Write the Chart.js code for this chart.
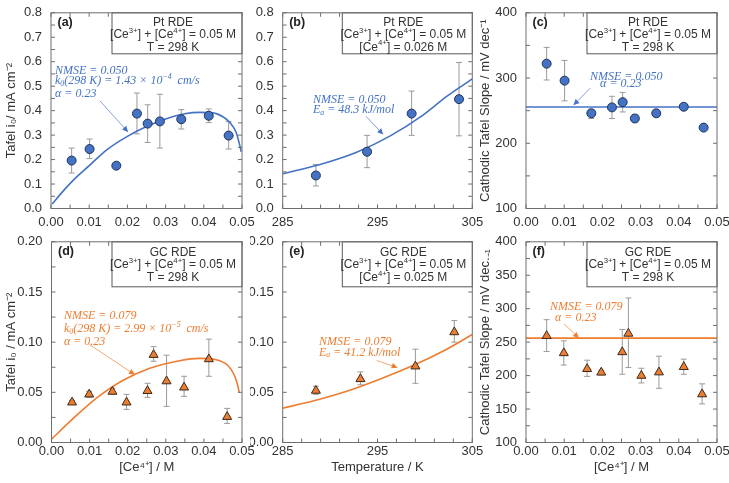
<!DOCTYPE html>
<html>
<head>
<meta charset="utf-8">
<script src="https://cdn.jsdelivr.net/npm/chart.js@4.4.1/dist/chart.umd.min.js"></script>
<style>
  html, body { margin: 0; padding: 0; background: #fff; }
  body { position: relative; width: 729px; height: 483px; overflow: hidden; }
  canvas { position: absolute; }
</style>
</head>
<body>
<script>
// ---------------- data ----------------

// Pt RDE, [Ce4+] series (panels a and c)
const ptCe4 = [0.0054, 0.0101, 0.0171, 0.0225, 0.0253, 0.0285, 0.0341, 0.0413, 0.0465];
const ptI0 = [0.196, 0.243, 0.175, 0.388, 0.347, 0.356, 0.365, 0.379, 0.298];
const ptI0Low = [0.145, 0.204, 0.168, 0.305, 0.270, 0.247, 0.325, 0.351, 0.243];
const ptI0High = [0.247, 0.284, 0.182, 0.472, 0.424, 0.467, 0.404, 0.407, 0.355];
const ptFitCe4 = [0.0003, 0.003, 0.0058, 0.010, 0.0146, 0.020, 0.025, 0.030, 0.035, 0.039, 0.042, 0.045, 0.047, 0.0485, 0.0493, 0.0498];
const ptFitI0 = [0.018, 0.068, 0.115, 0.175, 0.240, 0.295, 0.335, 0.366, 0.387, 0.393, 0.392, 0.375, 0.348, 0.310, 0.265, 0.232];
const ptSlope = [322, 296, 246, 255, 263, 238, 246, 256, 224];
const ptSlopeLow = [297, 265, 238, 238, 248, 233, 243, 253, 221];
const ptSlopeHigh = [347, 327, 252, 272, 278, 244, 249, 259, 227];
const ptSlopeFit = 255.5;

// Pt RDE, temperature series (panel b)
const ptTemp = [288.5, 293.9, 298.6, 303.6];
const ptI0T = [0.135, 0.232, 0.388, 0.447];
const ptI0TLow = [0.092, 0.167, 0.299, 0.297];
const ptI0THigh = [0.180, 0.299, 0.480, 0.597];
const ptFitTemp = [285, 289.3, 292.8, 296.3, 299.8, 302.3, 305];
const ptFitI0T = [0.142, 0.184, 0.230, 0.296, 0.382, 0.458, 0.530];

// GC RDE, [Ce4+] series (panels d and f)
const gcCe4 = [0.0054, 0.0099, 0.0160, 0.0197, 0.0252, 0.0268, 0.0302, 0.0348, 0.0413, 0.0461];
const gcI0 = [0.0400, 0.0480, 0.0507, 0.0400, 0.0514, 0.0874, 0.0611, 0.0549, 0.0831, 0.0256];
const gcI0Low = [0.0380, 0.0450, 0.0480, 0.0330, 0.0450, 0.0810, 0.0360, 0.0460, 0.0660, 0.0190];
const gcI0High = [0.0420, 0.0510, 0.0540, 0.0480, 0.0590, 0.0955, 0.0870, 0.0660, 0.1030, 0.0340];
const gcFitCe4 = [0.0001, 0.0057, 0.0118, 0.0188, 0.0258, 0.0336, 0.0389, 0.0432, 0.0463, 0.0480, 0.0488, 0.0493];
const gcFitI0 = [0.0036, 0.0240, 0.0442, 0.0620, 0.0740, 0.0815, 0.0838, 0.0825, 0.0767, 0.0670, 0.0580, 0.0495];
const gcSlope = [259.4, 233.7, 210, 204.7, 235.2, 262.8, 199.9, 205, 213, 172.2];
const gcSlopeLow = [236, 215.8, 198.8, 201, 202, 212, 189, 181, 202, 157.7];
const gcSlopeHigh = [283.6, 252, 223, 208, 269, 316, 211, 229, 224.6, 187.7];
const gcSlopeFit = 256;

// GC RDE, temperature series (panel e)
const gcTemp = [288.5, 293.2, 299.0, 303.1];
const gcI0T = [0.0517, 0.0633, 0.0759, 0.1100];
const gcI0TLow = [0.0480, 0.0575, 0.0590, 0.1000];
const gcI0THigh = [0.0560, 0.0704, 0.0930, 0.1215];
const gcFitTemp = [285, 288.2, 291.75, 295.3, 298.8, 302.3, 305];
const gcFitI0T = [0.0342, 0.0413, 0.0510, 0.0633, 0.0769, 0.0930, 0.1076];

// ---------------- look ----------------
const BLUE = 'rgb(68,114,196)';
const ORANGE = 'rgb(237,125,49)';
const SANS = "'Liberation Sans', Arial, sans-serif";
const SERIF = "'Liberation Serif', 'Times New Roman', serif";
const INK = '#333';

Chart.defaults.font.family = SANS;
Chart.defaults.font.size = 13;
Chart.defaults.color = INK;

// canvas rect [left, top, width, height] and plot area [left, top, right, bottom] per panel
const layout = {
  a: { canvas: [0, -4, 262, 244], area: [51, 6, 242, 208.5] },
  b: { canvas: [250, -4, 240, 244], area: [282.7, 6, 472.3, 208.5] },
  c: { canvas: [476, -4, 262, 244], area: [526, 6, 717, 208.5] },
  d: { canvas: [0, 225, 262, 258], area: [51.5, 236.7, 242, 442.5] },
  e: { canvas: [250, 225, 240, 258], area: [282.7, 236.7, 472.3, 442.5] },
  f: { canvas: [476, 225, 262, 258], area: [526, 236.7, 717, 442.5] }
};

// draw a line of text with superscript (1) / subscript (-1) pieces
function drawRich(ctx, parts, x, y, size, family, style, align) {
  const segs = parts.map(p => typeof p === 'string' ? { t: p, s: 0 } : { t: p[0], s: p[1] });
  const fontFor = s => `${style} ${s ? size * 0.65 : size}px ${family}`;
  let w = 0;
  segs.forEach(g => { ctx.font = fontFor(g.s); g.w = ctx.measureText(g.t).width; w += g.w; });
  let cx = align === 'center' ? x - w / 2 : x;
  ctx.textAlign = 'left';
  ctx.textBaseline = 'middle';
  segs.forEach(g => {
    ctx.font = fontFor(g.s);
    const dy = g.s === 1 ? -size * 0.33 : g.s === -1 ? size * 0.25 : 0;
    ctx.fillText(g.t, cx, y + dy);
    cx += g.w;
  });
}

function drawArrow(ctx, x1, y1, x2, y2, color) {
  const a = Math.atan2(y2 - y1, x2 - x1);
  const c = Math.cos(a), s = Math.sin(a);
  ctx.save();
  ctx.globalAlpha = 0.75;
  ctx.strokeStyle = color;
  ctx.lineWidth = 0.9;
  ctx.beginPath();
  ctx.moveTo(x1, y1);
  ctx.lineTo(x2 - 4 * c, y2 - 4 * s);
  ctx.stroke();
  ctx.globalAlpha = 1;
  ctx.fillStyle = color;
  ctx.beginPath();
  ctx.moveTo(x2, y2);
  ctx.lineTo(x2 - 6 * c + 2.8 * s, y2 - 6 * s - 2.8 * c);
  ctx.lineTo(x2 - 6 * c - 2.8 * s, y2 - 6 * s + 2.8 * c);
  ctx.closePath();
  ctx.fill();
  ctx.restore();
}

const specs = {};

// error bars under the marks, frame / inner ticks / notes on top
const panelPlugin = {
  id: 'panelDecor',
  beforeDatasetsDraw(chart) {
    const sp = specs[chart.canvas.id];
    const { ctx, scales: { x, y } } = chart;
    ctx.save();
    ctx.strokeStyle = '#9a9a9a';
    ctx.lineWidth = 1;
    sp.err.x.forEach((v, i) => {
      const px = x.getPixelForValue(v);
      const lo = y.getPixelForValue(sp.err.lo[i]);
      const hi = y.getPixelForValue(sp.err.hi[i]);
      ctx.beginPath();
      ctx.moveTo(px, lo); ctx.lineTo(px, hi);
      ctx.moveTo(px - 3, lo); ctx.lineTo(px + 3, lo);
      ctx.moveTo(px - 3, hi); ctx.lineTo(px + 3, hi);
      ctx.stroke();
    });
    ctx.restore();
  },
  afterDraw(chart) {
    const sp = specs[chart.canvas.id];
    const { ctx, chartArea: ca, scales: { x, y } } = chart;
    ctx.save();

    // inward ticks on all four sides
    ctx.strokeStyle = '#6e6e6e';
    ctx.lineWidth = 1;
    ctx.beginPath();
    x.ticks.forEach(t => {
      const px = x.getPixelForValue(t.value);
      ctx.moveTo(px, ca.bottom); ctx.lineTo(px, ca.bottom - 4);
      ctx.moveTo(px, ca.top); ctx.lineTo(px, ca.top + 4);
    });
    y.ticks.forEach(t => {
      const py = y.getPixelForValue(t.value);
      ctx.moveTo(ca.left, py); ctx.lineTo(ca.left + 4, py);
      ctx.moveTo(ca.right, py); ctx.lineTo(ca.right - 4, py);
    });
    ctx.stroke();

    // info box, top right
    const bw = sp.box.w, bh = sp.box.h;
    const bx = ca.right - bw;
    ctx.fillStyle = '#fff';
    ctx.fillRect(bx, ca.top, bw, bh);
    ctx.strokeStyle = '#595959';
    ctx.strokeRect(bx, ca.top, bw, bh);
    ctx.fillStyle = INK;
    sp.box.lines.forEach((ln, i) => {
      drawRich(ctx, ln, bx + bw / 2 - 4, ca.top + sp.box.rows[i], 12, SANS, 'normal', 'center');
    });

    // frame
    ctx.strokeStyle = '#6e6e6e';
    ctx.strokeRect(ca.left, ca.top, ca.right - ca.left, ca.bottom - ca.top);

    // panel tag
    ctx.fillStyle = '#222';
    ctx.font = `bold 12.5px ${SANS}`;
    ctx.textAlign = 'left';
    ctx.textBaseline = 'middle';
    ctx.fillText(sp.tag, ca.left + 6.5, ca.top + sp.tagDy);

    // fit notes and arrow
    ctx.fillStyle = sp.color;
    sp.notes.forEach(n => {
      drawRich(ctx, n.parts, x.getPixelForValue(n.at[0]), y.getPixelForValue(n.at[1]), 12, SERIF, 'italic', 'left');
    });
    drawArrow(ctx,
      x.getPixelForValue(sp.arrow[0][0]), y.getPixelForValue(sp.arrow[0][1]),
      x.getPixelForValue(sp.arrow[1][0]), y.getPixelForValue(sp.arrow[1][1]), sp.color);

    ctx.restore();
  }
};

function tickLabel(major, base, digits) {
  return function (value) {
    const k = (value - base) / major;
    return Math.abs(k - Math.round(k)) < 1e-6 ? value.toFixed(digits) : '';
  };
}

function points(xs, ys) {
  return xs.map((v, i) => ({ x: v, y: ys[i] }));
}

function makePanel(key, sp) {
  const L = layout[key];
  const [cl, ct, cw, ch] = L.canvas;
  const [al, at, ar, ab] = L.area;
  const cv = document.createElement('canvas');
  cv.id = 'panel-' + key;
  cv.width = cw; cv.height = ch;
  cv.style.left = cl + 'px'; cv.style.top = ct + 'px';
  cv.style.width = cw + 'px'; cv.style.height = ch + 'px';
  document.body.appendChild(cv);
  specs[cv.id] = sp;

  const yWidth = al - cl;
  const xHeight = ct + ch - ab;
  const marker = {
    data: points(sp.mx, sp.my),
    pointStyle: sp.shape,
    pointRadius: sp.shape === 'triangle' ? 5.2 : 4.5,
    backgroundColor: sp.color,
    borderColor: sp.shape === 'triangle' ? '#3b2a1e' : '#1f3459',
    borderWidth: 1,
    showLine: false
  };
  const fit = {
    data: points(sp.fx, sp.fy),
    showLine: true,
    pointRadius: 0,
    borderColor: sp.color,
    borderWidth: 1.6,
    cubicInterpolationMode: 'monotone',
    fill: false
  };

  return new Chart(cv, {
    type: 'scatter',
    data: { datasets: [marker, fit] },
    options: {
      responsive: false,
      animation: false,
      events: [],
      layout: { padding: { left: 0, top: at - ct, right: cl + cw - ar, bottom: 0 } },
      plugins: { legend: { display: false }, tooltip: { enabled: false } },
      scales: {
        x: {
          type: 'linear', min: sp.xr[0], max: sp.xr[1],
          grid: { display: false, drawTicks: false },
          border: { display: false },
          ticks: { stepSize: sp.xr[2], autoSkip: false, maxRotation: 0, padding: sp.xPad,
                   callback: tickLabel(sp.xr[3], sp.xr[0], sp.xr[4]) },
          title: { display: !!sp.xTitle, text: sp.xTitle || '', padding: { top: 0, bottom: 8 } },
          afterFit: s => { s.height = xHeight; }
        },
        y: {
          type: 'linear', min: sp.yr[0], max: sp.yr[1],
          grid: { display: false, drawTicks: false },
          border: { display: false },
          ticks: { stepSize: sp.yr[2], autoSkip: false, padding: 9,
                   callback: tickLabel(sp.yr[3], sp.yr[0], sp.yr[4]) },
          title: { display: !!sp.yTitle, text: sp.yTitle || '', padding: { top: sp.yTitlePad || 4, bottom: 0 } },
          afterFit: s => { s.width = yWidth; }
        }
      }
    },
    plugins: [panelPlugin]
  });
}

// axis ranges: [min, max, tick step, label step, decimals]
const concAxis = [0, 0.05, 0.005, 0.01, 2];
const tempAxis = [285, 305, 2, 10, 0];

const ptBox = l3 => ({ w: 130, h: 41, rows: [9.5, 22, 34.5],
  lines: [['Pt RDE'], ['[Ce', ['3+', 1], '] + [Ce', ['4+', 1], '] = 0.05 M'], l3] });
const gcBox = l3 => ({ w: 130, h: 45, rows: [10.5, 23, 36],
  lines: [['GC RDE'], ['[Ce', ['3+', 1], '] + [Ce', ['4+', 1], '] = 0.05 M'], l3] });

makePanel('a', {
  tag: '(a)', tagDy: 9.5, color: BLUE, shape: 'circle', xPad: 6,
  mx: ptCe4, my: ptI0, fx: ptFitCe4, fy: ptFitI0,
  err: { x: ptCe4, lo: ptI0Low, hi: ptI0High },
  xr: concAxis, yr: [0, 0.8, 0.05, 0.1, 1],
  yTitle: 'Tafel i₀/ mA cm⁻²',
  box: ptBox(['T = 298 K']),
  notes: [
    { at: [0.00105, 0.562], parts: ['NMSE = 0.050'] },
    { at: [0.00105, 0.520], parts: ['k', ['0', -1], '(298 K) = 1.43 × 10', ['−4', 1], '  cm/s'] },
    { at: [0.00105, 0.470], parts: ['α = 0.23'] }
  ],
  arrow: [[0.0128, 0.44], [0.0202, 0.312]]
});

makePanel('b', {
  tag: '(b)', tagDy: 9.5, color: BLUE, shape: 'circle', xPad: 6,
  mx: ptTemp, my: ptI0T, fx: ptFitTemp, fy: ptFitI0T,
  err: { x: ptTemp, lo: ptI0TLow, hi: ptI0THigh },
  xr: tempAxis, yr: [0, 0.8, 0.05, 0.1, 1],
  box: ptBox(['[Ce', ['4+', 1], '] = 0.026 M']),
  notes: [
    { at: [288.2, 0.4445], parts: ['NMSE = 0.050'] },
    { at: [288.2, 0.404], parts: ['E', ['a', -1], ' = 48.3 kJ/mol'] }
  ],
  arrow: [[293.79, 0.377], [295.61, 0.302]]
});

makePanel('c', {
  tag: '(c)', tagDy: 9.5, color: BLUE, shape: 'circle', xPad: 6,
  mx: ptCe4, my: ptSlope, fx: [0, 0.05], fy: [ptSlopeFit, ptSlopeFit],
  err: { x: ptCe4, lo: ptSlopeLow, hi: ptSlopeHigh },
  xr: concAxis, yr: [100, 400, 50, 100, 0],
  yTitle: 'Cathodic Tafel Slope / mV dec⁻¹', yTitlePad: 2,
  box: ptBox(['T = 298 K']),
  notes: [
    { at: [0.01675, 302.4], parts: ['NMSE = 0.050'] },
    { at: [0.0194, 290.5], parts: ['α = 0.23'] }
  ],
  arrow: [[0.01675, 284.2], [0.0124, 258.1]]
});

makePanel('d', {
  tag: '(d)', tagDy: 10, color: ORANGE, shape: 'triangle', xPad: 1,
  mx: gcCe4, my: gcI0, fx: gcFitCe4, fy: gcFitI0,
  err: { x: gcCe4, lo: gcI0Low, hi: gcI0High },
  xr: concAxis, yr: [0, 0.2, 0.025, 0.05, 2],
  xTitle: '[Ce⁴⁺] / M',
  yTitle: 'Tafel i₀ / mA cm⁻²',
  box: gcBox(['T = 298 K']),
  notes: [
    { at: [0.00327, 0.1264], parts: ['NMSE = 0.079'] },
    { at: [0.00327, 0.113], parts: ['k', ['0', -1], '(298 K) = 2.99 × 10', ['−5', 1], '  cm/s'] },
    { at: [0.00327, 0.1007], parts: ['α = 0.23'] }
  ],
  arrow: [[0.0099, 0.0978], [0.0219, 0.0675]]
});

makePanel('e', {
  tag: '(e)', tagDy: 10, color: ORANGE, shape: 'triangle', xPad: 1,
  mx: gcTemp, my: gcI0T, fx: gcFitTemp, fy: gcFitI0T,
  err: { x: gcTemp, lo: gcI0TLow, hi: gcI0THigh },
  xr: tempAxis, yr: [0, 0.2, 0.025, 0.05, 2],
  xTitle: 'Temperature / K',
  box: gcBox(['[Ce', ['4+', 1], '] = 0.025 M']),
  notes: [
    { at: [288.83, 0.1002], parts: ['NMSE = 0.079'] },
    { at: [288.83, 0.0898], parts: ['E', ['a', -1], ' = 41.2 kJ/mol'] }
  ],
  arrow: [[294.92, 0.0817], [297.13, 0.0746]]
});

makePanel('f', {
  tag: '(f)', tagDy: 10, color: ORANGE, shape: 'triangle', xPad: 1,
  mx: gcCe4, my: gcSlope, fx: [0, 0.05], fy: [gcSlopeFit, gcSlopeFit],
  err: { x: gcCe4, lo: gcSlopeLow, hi: gcSlopeHigh },
  xr: concAxis, yr: [100, 400, 25, 50, 0],
  xTitle: '[Ce⁴⁺] / M',
  yTitle: 'Cathodic Tafel Slope / mV dec.₋₁', yTitlePad: 2,
  box: gcBox(['T = 298 K']),
  notes: [
    { at: [0.0063, 303.1], parts: ['NMSE = 0.079'] },
    { at: [0.0076, 286], parts: ['α = 0.23'] }
  ],
  arrow: [[0.00995, 277.3], [0.01387, 256]]
});
</script>
</body>
</html>
